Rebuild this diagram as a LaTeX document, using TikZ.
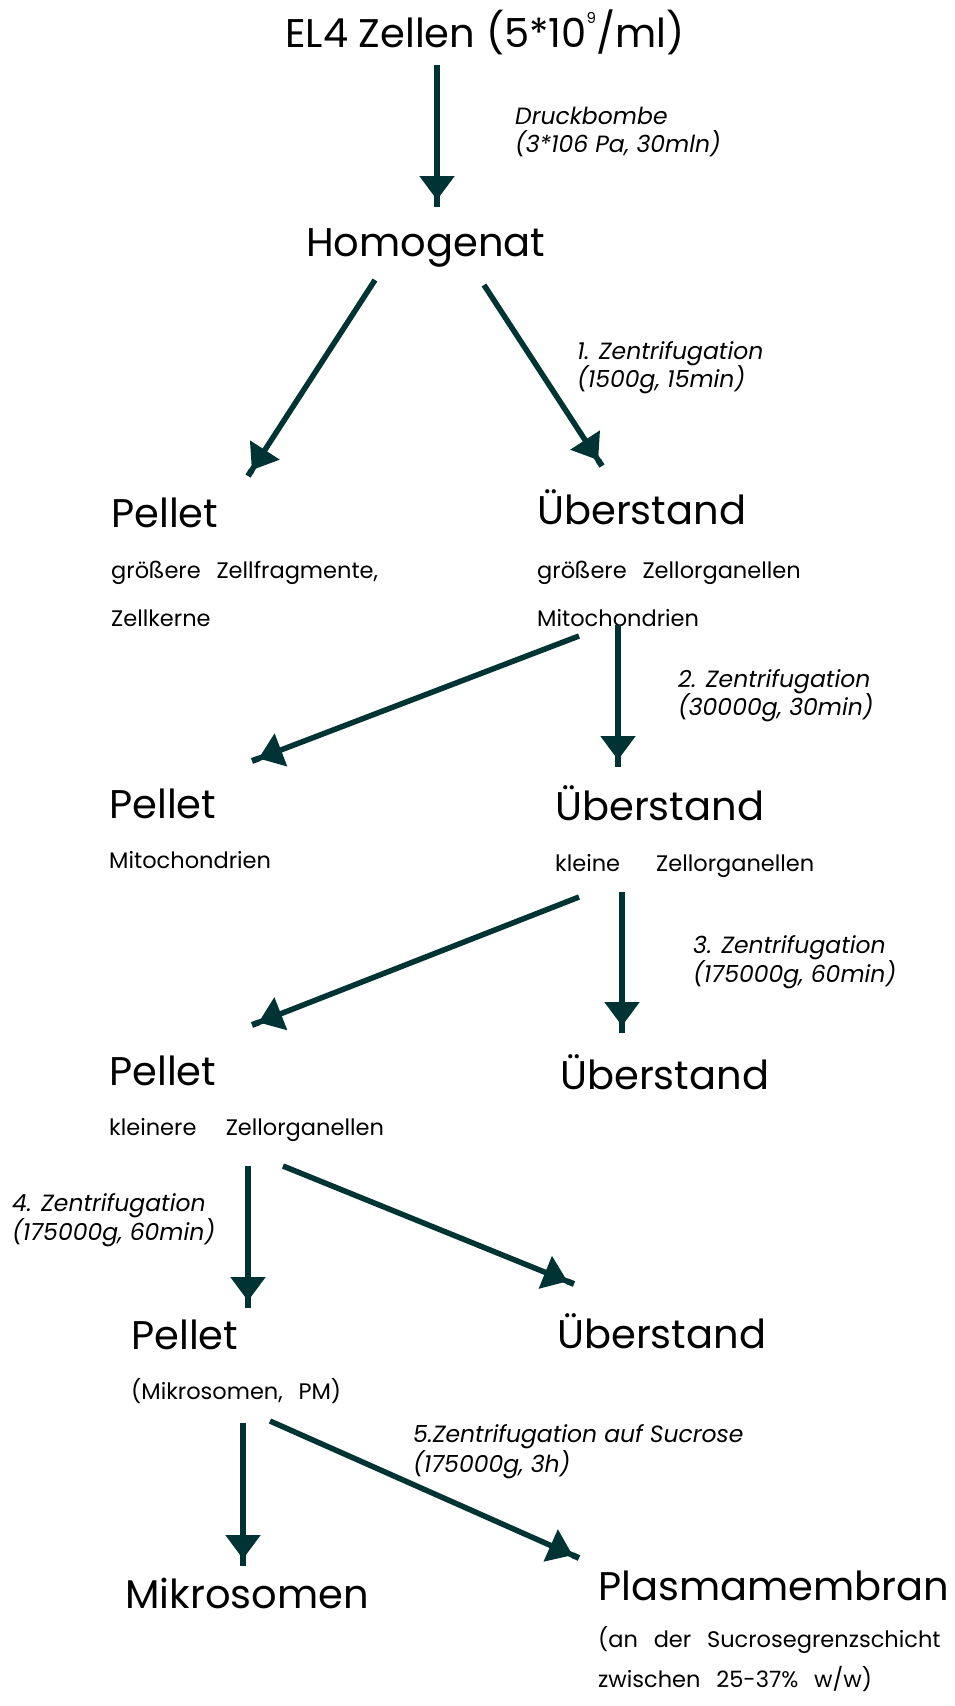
\documentclass[tikz,border=0pt]{standalone}
\usepackage{fontspec}
\setmainfont{Poppins}
\usetikzlibrary{arrows.meta}
\definecolor{flowc}{RGB}{0,51,51}
\newcommand{\gap}{\hspace{0.7em}}
\newcommand{\hochneun}{\raisebox{1.05ex}{\fontsize{15}{15}\selectfont 9}}

\begin{document}
\begin{tikzpicture}[x=1pt, y=-1pt,
  >={Triangle[length=24pt, width=34pt, sep=0pt] Rectangle[length=7pt, width=6pt]},
  flow/.style={->, line width=5.5pt, draw=flowc, fill=flowc},
  big/.style={anchor=base west, inner sep=0pt, font=\fontsize{40}{44}\selectfont},
  sub/.style={anchor=base west, inner sep=0pt, font=\fontsize{22.5}{26}\selectfont},
  cond/.style={anchor=base west, inner sep=0pt, font=\itshape\fontsize{23.5}{26}\selectfont}]
  \useasboundingbox (0,0) rectangle (954,1706);
  % start
  \node[big] (el4) at (285,47) {EL4 Zellen (5*10\hochneun/ml)};
  \node[cond] (druck) at (515,124) {Druckbombe};
  \node[cond] (druckb) at (515,152) {(3*106 Pa, 30mln)};
  \node[big] (homog) at (306,256) {Homogenat};
  % 1. Zentrifugation
  \node[cond] (z1) at (577,359) {1. Zentrifugation};
  \node[cond] (z1b) at (577,387) {(1500g, 15min)};
  \node[big] (pel1) at (111,527) {Pellet};
  \node[sub] (pel1a) at (111,578) {größere\gap Zellfragmente,};
  \node[sub] (pel1b) at (111,626) {Zellkerne};
  \node[big] (ueb1) at (537,524) {Überstand};
  \node[sub] (ueb1a) at (537,578) {größere\gap Zellorganellen};
  \node[sub] (ueb1b) at (537,626) {Mitochondrien};
  % 2. Zentrifugation
  \node[cond] (z2) at (678,687) {2. Zentrifugation};
  \node[cond] (z2b) at (678,715) {(30000g, 30min)};
  \node[big] (pel2) at (109,818) {Pellet};
  \node[sub] (pel2a) at (109,868) {Mitochondrien};
  \node[big] (ueb2) at (555,820) {Überstand};
  \node[sub] (ueb2a) at (555,871) {kleine\hspace{1.6em}Zellorganellen};
  % 3. Zentrifugation
  \node[cond] (z3) at (693,953) {3. Zentrifugation};
  \node[cond] (z3b) at (693,982) {(175000g, 60min)};
  \node[big] (pel3) at (109,1085) {Pellet};
  \node[sub] (pel3a) at (109,1135) {kleinere\hspace{1.3em}Zellorganellen};
  \node[big] (ueb3) at (560,1089) {Überstand};
  % 4. Zentrifugation
  \node[cond] (z4) at (12,1211) {4. Zentrifugation};
  \node[cond] (z4b) at (12,1240) {(175000g, 60min)};
  \node[big] (pel4) at (131,1349) {Pellet};
  \node[sub] (pel4a) at (131,1399) {(Mikrosomen,\gap PM)};
  \node[big] (ueb4) at (557,1348) {Überstand};
  % 5. Zentrifugation
  \node[cond] (z5) at (413,1442) {5.Zentrifugation auf Sucrose};
  \node[cond] (z5b) at (413,1472) {(175000g, 3h)};
  \node[big] (mikro) at (125,1608) {Mikrosomen};
  \node[big] (plasma) at (598,1600) {Plasmamembran};
  \node[sub] (plasmaa) at (598,1647) {(an\gap der\gap Sucrosegrenzschicht};
  \node[sub] (plasmab) at (598,1687) {zwischen\gap 25-37\%\gap w/w)};
  % arrow ends
  \coordinate (el4-s) at (437,65);     \coordinate (homog-n) at (437,207);
  \coordinate (homog-sw) at (375,280); \coordinate (pel1-n) at (248,476);
  \coordinate (homog-se) at (484,285); \coordinate (ueb1-n) at (602,466);
  \coordinate (ueb1-sw) at (579,636);  \coordinate (pel2-n) at (252,761);
  \coordinate (ueb1-s) at (618,625);   \coordinate (ueb2-n) at (618,767);
  \coordinate (ueb2-sw) at (579,897);  \coordinate (pel3-n) at (252,1025);
  \coordinate (ueb2-s) at (622,892);   \coordinate (ueb3-n) at (622,1033);
  \coordinate (pel3-s) at (248,1166);  \coordinate (pel4-n) at (248,1308);
  \coordinate (pel3-se) at (283,1166); \coordinate (ueb4-n) at (574,1284);
  \coordinate (pel4-s) at (243,1423);  \coordinate (mikro-n) at (243,1566);
  \coordinate (pel4-se) at (270,1421); \coordinate (plasma-n) at (579,1558);
  % arrows
  \draw[flow] (el4-s) -- (homog-n);
  \draw[flow] (homog-sw) -- (pel1-n);
  \draw[flow] (homog-se) -- (ueb1-n);
  \draw[flow] (ueb1-sw) -- (pel2-n);
  \draw[flow] (ueb1-s) -- (ueb2-n);
  \draw[flow] (ueb2-sw) -- (pel3-n);
  \draw[flow] (ueb2-s) -- (ueb3-n);
  \draw[flow] (pel3-s) -- (pel4-n);
  \draw[flow] (pel3-se) -- (ueb4-n);
  \draw[flow] (pel4-s) -- (mikro-n);
  \draw[flow] (pel4-se) -- (plasma-n);
\end{tikzpicture}
\end{document}
